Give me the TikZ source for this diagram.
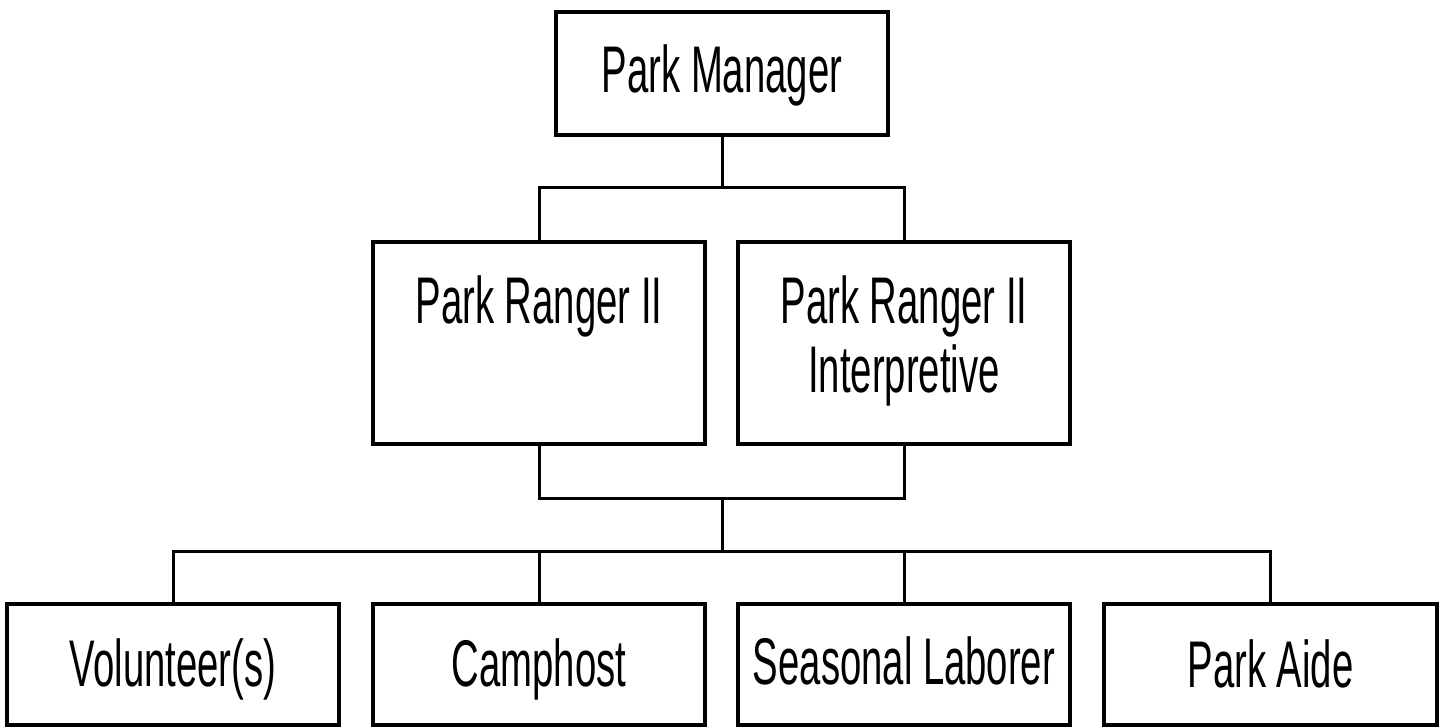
\documentclass[tikz,border=0pt]{standalone}
\usepackage{fontspec}
\setmainfont{Liberation Sans}[FakeStretch=0.58]
\begin{document}
\begin{tikzpicture}[x=1pt,y=1pt,
  box/.style={draw=black,line width=4pt,minimum width=332pt,inner sep=0pt,fill=white},
  lbl/.style={anchor=base,inner sep=0pt,font=\fontsize{66}{69}\selectfont},
  conn/.style={draw=black,line width=3pt}]
\useasboundingbox (0,0) rectangle (1445,-726);
% boxes
\node[box,minimum height=123pt] (pm) at (722,-73.5) {};
\node[box,minimum height=202pt] (r1) at (539,-343) {};
\node[box,minimum height=202pt] (r2) at (904,-343) {};
\node[box,minimum height=121pt] (vol) at (173,-664.5) {};
\node[box,minimum height=121pt] (camp) at (539,-664.5) {};
\node[box,minimum height=121pt] (seas) at (904,-664.5) {};
\node[box,minimum height=121pt,minimum width=333pt] (aide) at (1270.5,-664.5) {};
% labels
\node[lbl] (tpm) at (722,-92) {Park Manager};
\node[lbl] (tr1) at (539,-323) {Park Ranger II};
\node[lbl] (tr2a) at (904,-323) {Park Ranger II};
\node[lbl] (tr2b) at (904,-392) {Interpretive};
\node[lbl] (tvol) at (173,-686) {Volunteer(s)};
\node[lbl] (tcamp) at (539,-686) {Camphost};
\node[lbl] (tseas) at (904,-684) {Seasonal Laborer};
\node[lbl] (taide) at (1270.5,-687) {Park Aide};
% connectors
\coordinate (j1) at (722,-187);
\coordinate (j2) at (722,-498);
\coordinate (j3) at (722,-551);
\draw[conn] (pm.south) -- (j1);
\draw[conn,line cap=rect] (r1.north) -- (r1.north |- j1) -- (r2.north |- j1) -- (r2.north);
\draw[conn,line cap=rect] (r1.south) -- (r1.south |- j2) -- (r2.south |- j2) -- (r2.south);
\draw[conn] (j2) -- (j3);
\draw[conn,line cap=rect] (vol.north) -- (vol.north |- j3) -- (aide.north |- j3) -- (aide.north);
\draw[conn] (camp.north) -- (camp.north |- j3);
\draw[conn] (seas.north) -- (seas.north |- j3);
\end{tikzpicture}
\end{document}
